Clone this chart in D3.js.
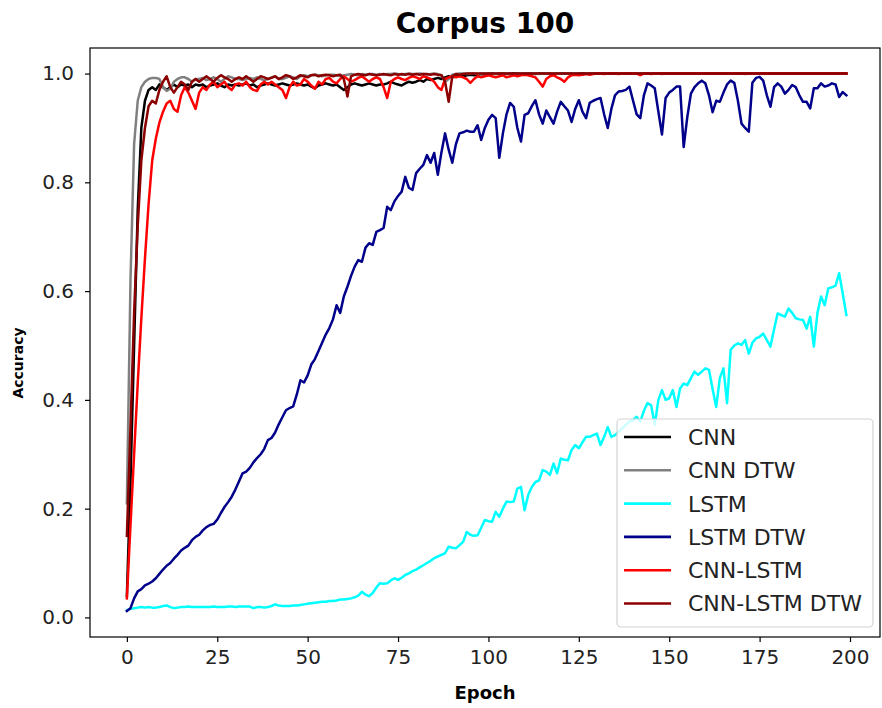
<!DOCTYPE html>
<html><head><meta charset="utf-8">
<script src="https://cdn.jsdelivr.net/npm/d3@7"></script>
<style>body{margin:0;background:#fff}svg{display:block}text{font-family:"DejaVu Sans",sans-serif}</style>
</head><body><svg id="c" width="882" height="708"></svg>
<script>
const seriesNames = ["CNN","CNN DTW","LSTM","LSTM DTW","CNN-LSTM","CNN-LSTM DTW"];
const seriesColors = ["#000000","#808080","#00ffff","#00008b","#ff0000","#8b0000"];
const xTicks = [0,25,50,75,100,125,150,175,200];
const yTicks = [0.0,0.2,0.4,0.6,0.8,1.0];

const cnn = [0.04,0.25,0.50,0.75,0.90,0.95,0.97,0.975,0.97,0.98,
0.975,0.97,0.975,0.98,0.975,0.98,0.978,0.98,0.975,0.98,
0.978,0.98,0.975,0.978,0.98,0.982,0.978,0.975,0.98,0.978,
0.98,0.978,0.98,0.982,0.978,0.98,0.975,0.978,0.98,0.982,
0.98,0.978,0.98,0.982,0.98,0.978,0.98,0.982,0.98,0.978,
0.98,0.976,0.973,0.978,0.98,0.982,0.98,0.978,0.98,0.975,
0.97,0.975,0.98,0.982,0.98,0.978,0.98,0.982,0.98,0.978,
0.98,0.98,0.982,0.985,0.982,0.98,0.978,0.982,0.985,0.983,
0.985,0.988,0.985,0.99,0.988,0.99,0.992,0.99,0.993,0.995,
0.993,0.995,0.997,0.995,0.997,0.998,0.997,0.998,0.999,0.998,
0.999,1,0.999,1,1,0.999,1,1,1,0.999,
1,1,1,0.999,1,1,1,1,0.999,1,
1,1,1,1,0.999,1,1,1,1,1,
1,1,1,1,1,1,1,1,1,1,
1,1,1,1,1,1,1,1,1,1,
1,1,1,1,1,1,1,1,1,1,
1,1,1,1,1,1,1,1,1,1,
1,1,1,1,1,1,1,1,1,1,
1,1,1,1,1,1,1,1,1,1,
1,1,1,1,1,1,1,1,1,1];

const cnnDtw = [0.21,0.62,0.87,0.95,0.975,0.985,0.99,0.992,0.992,0.99,
0.975,0.968,0.972,0.985,0.99,0.993,0.993,0.99,0.985,0.99,
0.99,0.992,0.988,0.99,0.993,0.99,0.985,0.99,0.995,0.993,
0.99,0.99,0.988,0.99,0.992,0.99,0.993,0.99,0.988,0.99,
0.993,0.995,0.99,0.99,0.992,0.995,0.993,0.99,0.995,0.997,
0.995,0.997,0.998,0.997,0.995,0.997,0.998,0.998,0.997,0.995,
0.997,0.998,0.999,0.998,0.997,0.999,0.998,0.999,0.999,0.998,
0.999,0.998,0.999,0.999,1,0.999,0.998,0.999,1,0.999,
0.999,1,0.999,0.998,0.999,1,0.999,0.997,0.985,0.99,
0.998,0.999,1,1,0.999,1,1,0.999,1,1,
1,1,0.999,1,1,1,1,0.998,1,1,
1,1,1,1,0.999,1,1,1,1,1,
1,1,1,1,1,1,0.998,1,1,1,
1,1,1,1,1,1,1,1,1,1,
1,1,1,1,1,1,1,1,0.999,1,
1,1,1,1,1,1,1,1,1,1,
1,1,1,1,1,1,1,1,1,1,
1,0.999,1,1,1,1,1,1,1,1,
1,1,1,1,1,1,1,1,1,1,
1,1,1,1,1,1,1,1,1,1];

const lstm = [0.013,0.016,0.017,0.018,0.019,0.018,0.019,0.018,0.018,0.019,
0.021,0.022,0.019,0.017,0.018,0.019,0.019,0.020,0.019,0.019,
0.019,0.019,0.019,0.019,0.020,0.019,0.019,0.019,0.020,0.020,
0.019,0.020,0.020,0.020,0.020,0.017,0.019,0.019,0.018,0.019,
0.021,0.024,0.022,0.021,0.021,0.021,0.022,0.022,0.023,0.024,
0.025,0.026,0.027,0.028,0.029,0.029,0.030,0.030,0.031,0.033,
0.033,0.034,0.035,0.037,0.040,0.047,0.042,0.039,0.045,0.055,
0.063,0.062,0.063,0.068,0.072,0.069,0.073,0.078,0.081,0.085,
0.088,0.092,0.096,0.100,0.104,0.109,0.112,0.115,0.118,0.130,
0.128,0.127,0.133,0.139,0.157,0.152,0.150,0.151,0.165,0.179,
0.177,0.176,0.194,0.185,0.200,0.213,0.212,0.213,0.237,0.240,
0.197,0.225,0.240,0.249,0.252,0.271,0.268,0.262,0.283,0.265,
0.292,0.290,0.289,0.308,0.317,0.311,0.322,0.332,0.332,0.335,
0.338,0.317,0.332,0.350,0.332,0.335,0.341,0.348,0.354,0.360,
0.363,0.369,0.360,0.380,0.394,0.390,0.354,0.400,0.418,0.400,
0.403,0.418,0.387,0.421,0.430,0.427,0.440,0.452,0.446,0.452,
0.458,0.455,0.420,0.387,0.440,0.458,0.394,0.492,0.500,0.504,
0.501,0.510,0.485,0.505,0.513,0.516,0.522,0.510,0.498,0.530,
0.559,0.556,0.553,0.568,0.560,0.550,0.548,0.547,0.531,0.553,
0.498,0.560,0.590,0.574,0.605,0.607,0.610,0.633,0.595,0.556];

const lstmDtw = [0.012,0.017,0.035,0.048,0.052,0.059,0.062,0.066,0.072,0.080,
0.088,0.095,0.100,0.108,0.115,0.123,0.128,0.132,0.142,0.148,
0.152,0.160,0.166,0.170,0.172,0.180,0.192,0.203,0.212,0.222,
0.235,0.250,0.265,0.268,0.275,0.285,0.293,0.300,0.310,0.326,
0.330,0.340,0.355,0.368,0.381,0.385,0.388,0.410,0.436,0.432,
0.445,0.465,0.475,0.490,0.505,0.520,0.532,0.548,0.574,0.560,
0.590,0.608,0.628,0.645,0.657,0.654,0.680,0.688,0.685,0.709,
0.712,0.716,0.755,0.749,0.765,0.775,0.783,0.810,0.790,0.786,
0.817,0.825,0.832,0.850,0.836,0.854,0.814,0.855,0.890,0.860,
0.836,0.870,0.890,0.892,0.895,0.893,0.893,0.905,0.878,0.900,
0.915,0.924,0.918,0.845,0.890,0.925,0.946,0.939,0.900,0.875,
0.924,0.927,0.940,0.951,0.925,0.908,0.932,0.920,0.908,0.930,
0.948,0.940,0.932,0.911,0.935,0.951,0.930,0.918,0.946,0.950,
0.953,0.955,0.925,0.900,0.935,0.960,0.967,0.968,0.970,0.976,
0.950,0.925,0.918,0.960,0.982,0.978,0.973,0.930,0.888,0.955,
0.965,0.970,0.976,0.976,0.865,0.920,0.963,0.975,0.982,0.987,
0.982,0.960,0.929,0.950,0.948,0.965,0.980,0.987,0.983,0.950,
0.908,0.900,0.893,0.983,0.992,0.994,0.987,0.960,0.939,0.975,
0.982,0.976,0.963,0.970,0.979,0.975,0.960,0.948,0.948,0.936,
0.973,0.973,0.982,0.976,0.978,0.982,0.980,0.957,0.966,0.960];

const cnnLstm = [0.035,0.17,0.30,0.43,0.55,0.66,0.76,0.84,0.88,0.91,
0.93,0.945,0.95,0.935,0.93,0.96,0.975,0.965,0.95,0.935,
0.965,0.975,0.97,0.98,0.985,0.975,0.98,0.985,0.975,0.97,
0.98,0.982,0.978,0.985,0.975,0.97,0.968,0.98,0.985,0.98,
0.985,0.98,0.975,0.97,0.955,0.975,0.985,0.978,0.98,0.99,
0.985,0.978,0.972,0.985,0.98,0.99,0.992,0.985,0.982,0.99,
0.995,0.99,0.985,0.988,0.992,0.995,0.99,0.985,0.99,0.993,
0.99,0.975,0.955,0.985,0.99,0.993,0.99,0.988,0.992,0.995,
0.993,0.99,0.995,0.993,0.99,0.985,0.975,0.97,0.99,0.993,
0.995,0.993,0.995,0.993,0.99,0.983,0.99,0.995,0.993,0.995,
0.997,0.995,0.993,0.995,0.997,0.993,0.995,0.997,0.995,0.997,
0.998,0.997,0.995,0.993,0.985,0.976,0.99,0.995,0.997,0.993,
0.99,0.985,0.993,0.997,0.998,0.997,0.998,0.999,0.998,0.999,
1,1,0.999,1,1,1,0.999,1,1,1,
1,1,0.997,1,1,0.999,1,1,1,1,
1,1,1,1,1,1,1,1,1,1,
1,1,1,1,1,1,1,1,1,1,
1,1,1,1,1,1,1,1,1,1,
1,1,1,1,1,1,1,1,1,1,
1,1,1,1,1,1,1,1,1,1];

const cnnLstmDtw = [0.15,0.35,0.56,0.72,0.84,0.90,0.94,0.95,0.945,0.97,
0.985,0.995,0.975,0.965,0.975,0.985,0.98,0.97,0.985,0.99,
0.985,0.99,0.995,0.99,0.985,0.992,0.997,0.993,0.99,0.985,
0.99,0.993,0.99,0.995,0.99,0.985,0.99,0.995,0.993,0.99,
0.992,0.995,0.99,0.993,0.997,0.995,0.99,0.993,0.997,0.995,
0.993,0.997,0.998,0.995,0.997,0.998,0.997,0.995,0.997,0.998,
0.99,0.958,0.995,0.998,0.999,0.998,0.997,0.999,0.998,0.997,
0.998,0.999,0.998,0.997,0.999,0.998,0.999,0.998,0.999,0.998,
0.999,0.998,0.999,0.999,0.998,0.999,0.998,0.997,0.985,0.948,
0.995,0.999,0.998,0.999,1,1,1,1,1,1,
1,1,1,1,1,1,1,1,1,1,
1,1,1,1,1,1,1,1,1,1,
1,1,1,1,1,1,1,1,1,1,
1,1,1,1,1,1,1,1,1,1,
1,1,1,1,1,1,1,1,1,1,
1,1,1,1,1,1,1,1,1,1,
1,1,1,1,1,1,1,1,1,1,
1,1,1,1,1,1,1,1,1,1,
1,1,1,1,1,1,1,1,1,1,
1,1,1,1,1,1,1,1,1,1];

const allSeries = [cnn, cnnDtw, lstm, lstmDtw, cnnLstm, cnnLstmDtw];

const svg = d3.select("#c");
const L = 90, R = 880, T = 48, B = 637;
const x = d3.scaleLinear().domain([-10.2, 208.3]).range([L, R]);
const y = d3.scaleLinear().domain([-0.036, 1.047]).range([B, T]);

const line = d3.line().x((d, i) => x(i)).y(d => y(d));
const plot = svg.append("g");
allSeries.forEach((s, k) => {
  plot.append("path").datum(s).attr("d", line)
    .attr("fill", "none").attr("stroke", seriesColors[k])
    .attr("stroke-width", 2.5).attr("stroke-linejoin", "round").attr("stroke-linecap", "square");
});

// frame
svg.append("rect").attr("x", L).attr("y", T).attr("width", R - L).attr("height", B - T)
  .attr("fill", "none").attr("stroke", "#000").attr("stroke-width", 1.2);

const xAxis = svg.append("g").attr("transform", `translate(0,${B})`)
  .call(d3.axisBottom(x).tickValues(xTicks).tickFormat(d3.format("d")).tickSize(5).tickPadding(8));
const yAxis = svg.append("g").attr("transform", `translate(${L},0)`)
  .call(d3.axisLeft(y).tickValues(yTicks).tickFormat(d3.format(".1f")).tickSize(5).tickPadding(11));
[xAxis, yAxis].forEach(a => {
  a.select(".domain").remove();
  a.selectAll(".tick line").attr("stroke", "#000").attr("stroke-width", 1.2);
  a.selectAll(".tick text").attr("fill", "#222").style("font-size", "20px").style("font-family", "DejaVu Sans");
});

svg.append("text").attr("x", (L + R) / 2).attr("y", 33).attr("text-anchor", "middle")
  .style("font-size", "28px").style("font-weight", "bold").text("Corpus 100");
svg.append("text").attr("x", (L + R) / 2).attr("y", 699).attr("text-anchor", "middle")
  .style("font-size", "18px").style("font-weight", "bold").text("Epoch");
svg.append("text").attr("transform", "translate(23,363) rotate(-90)").attr("text-anchor", "middle")
  .style("font-size", "14px").style("font-weight", "bold").text("Accuracy");

// legend
const lg = svg.append("g");
lg.append("rect").attr("x", 617).attr("y", 419).attr("width", 256).attr("height", 208).attr("rx", 4)
  .attr("fill", "#fff").attr("fill-opacity", 0.8).attr("stroke", "#d3d3d3").attr("stroke-width", 1.2);
seriesNames.forEach((n, k) => {
  const yy = 437 + k * 33.3;
  lg.append("line").attr("x1", 624).attr("x2", 671).attr("y1", yy).attr("y2", yy)
    .attr("stroke", seriesColors[k]).attr("stroke-width", 2.6);
  lg.append("text").attr("x", 688).attr("y", yy).attr("dy", "0.36em")
    .style("font-size", "22px").attr("fill", "#222").text(n);
});
</script></body></html>
